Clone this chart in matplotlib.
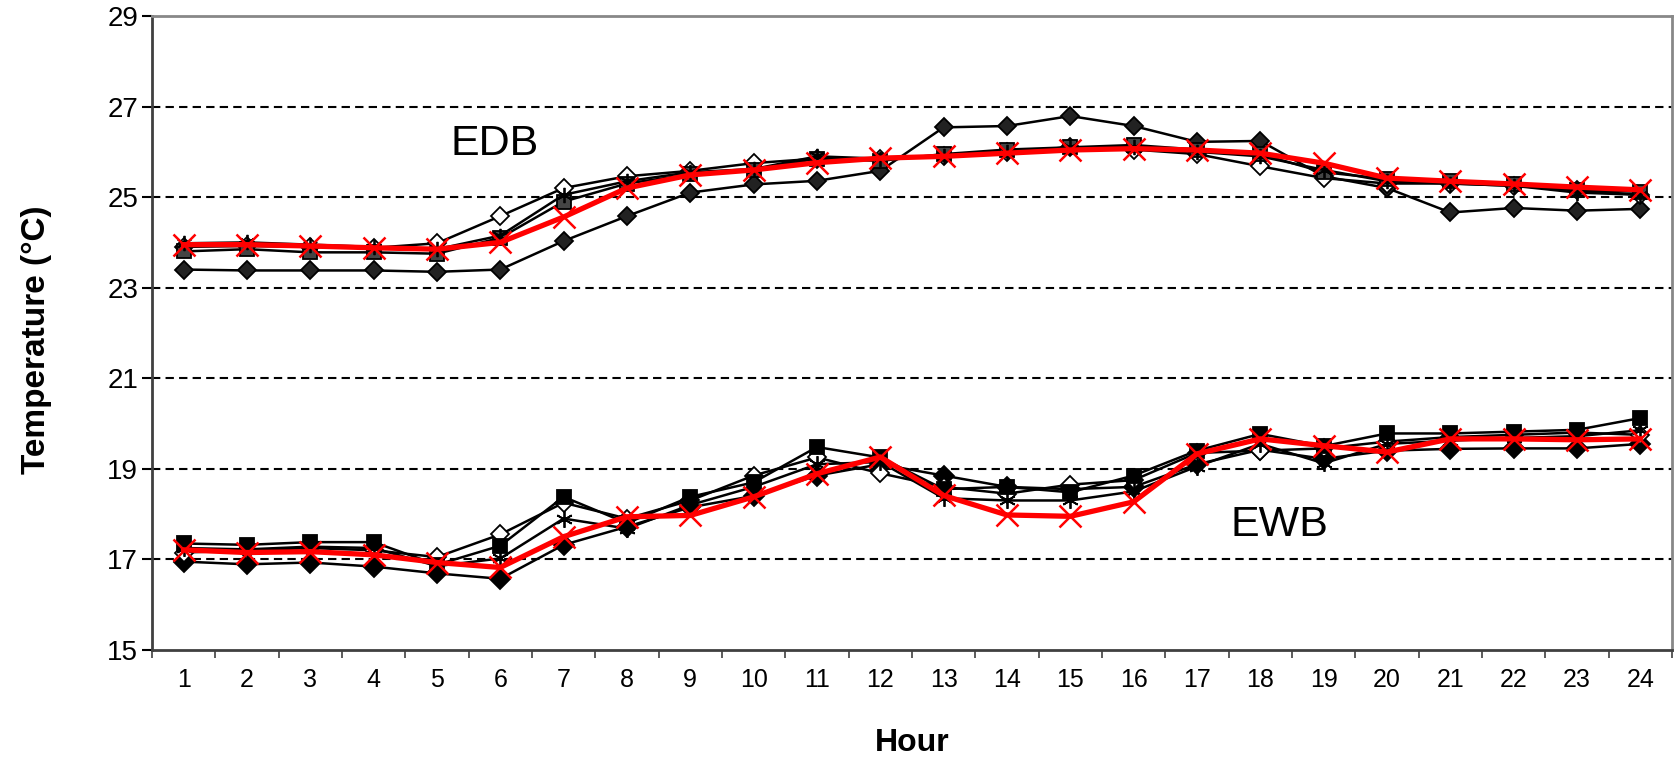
import numpy as np
import matplotlib
matplotlib.use("Agg")
import matplotlib.pyplot as plt

plt.rcParams["font.family"] = ["Liberation Sans", "DejaVu Sans"]

hours = list(range(1, 25))

# EDB (entering dry bulb) series
edb_diamond = [23.40, 23.38, 23.38, 23.38, 23.35, 23.40, 24.03, 24.58, 25.10, 25.28, 25.36, 25.58,
               26.54, 26.57, 26.79, 26.57, 26.22, 26.24, 25.46, 25.20, 24.66, 24.76, 24.70, 24.74]
edb_open = [23.90, 23.92, 23.90, 23.88, 23.98, 24.58, 25.20, 25.46, 25.58, 25.75, 25.85, 25.85,
            25.90, 26.00, 26.10, 26.05, 25.95, 25.68, 25.42, 25.30, 25.30, 25.25, 25.15, 25.05]
edb_square = [23.80, 23.85, 23.78, 23.78, 23.75, 24.10, 24.90, 25.30, 25.50, 25.60, 25.85, 25.80,
              25.95, 26.05, 26.10, 26.15, 26.05, 25.95, 25.55, 25.40, 25.35, 25.30, 25.15, 25.12]
edb_star = [23.98, 24.00, 23.95, 23.90, 23.85, 24.15, 25.05, 25.35, 25.55, 25.62, 25.90, 25.85,
            25.90, 26.00, 26.10, 26.10, 26.00, 25.90, 25.60, 25.35, 25.30, 25.25, 25.10, 25.05]
edb_red = [23.95, 23.95, 23.92, 23.88, 23.85, 24.00, 24.56, 25.20, 25.49, 25.60, 25.76, 25.86,
           25.90, 25.97, 26.04, 26.07, 26.04, 25.97, 25.75, 25.42, 25.35, 25.29, 25.22, 25.16]

# EWB (entering wet bulb) series
ewb_diamond = [16.95, 16.89, 16.93, 16.84, 16.69, 16.57, 17.32, 17.72, 18.15, 18.40, 18.85, 19.10,
               18.85, 18.60, 18.55, 18.60, 19.10, 19.42, 19.22, 19.40, 19.44, 19.45, 19.45, 19.55]
ewb_open = [17.15, 17.20, 17.25, 17.20, 17.05, 17.55, 18.25, 17.90, 18.30, 18.85, 19.25, 18.90,
            18.60, 18.45, 18.65, 18.75, 19.35, 19.40, 19.45, 19.60, 19.70, 19.75, 19.80, 19.75]
ewb_square = [17.35, 17.32, 17.38, 17.38, 16.88, 17.30, 18.38, 17.80, 18.38, 18.70, 19.48, 19.25,
              18.55, 18.60, 18.48, 18.85, 19.40, 19.77, 19.50, 19.78, 19.78, 19.82, 19.86, 20.12]
ewb_star = [17.25, 17.22, 17.28, 17.25, 16.85, 17.02, 17.90, 17.68, 18.20, 18.60, 19.10, 19.15,
            18.35, 18.30, 18.30, 18.50, 19.05, 19.55, 19.12, 19.55, 19.62, 19.68, 19.72, 19.85]
ewb_red = [17.21, 17.15, 17.17, 17.10, 16.93, 16.82, 17.50, 17.94, 17.97, 18.38, 18.89, 19.26,
           18.41, 17.98, 17.95, 18.27, 19.33, 19.66, 19.51, 19.37, 19.66, 19.66, 19.64, 19.66]

yticks = list(range(15, 30, 2))

fig = plt.figure(figsize=(16.75, 7.61), dpi=100)
ax = fig.add_axes([0.0907, 0.146, 0.9075, 0.833])

# dashed grid
for g in yticks[1:-1]:
    ax.axhline(g, color="black", lw=1.5, ls=(0, (4, 2.5)), zorder=1)

asterisk = (6, 2, 0)
black_sets = [
    (edb_diamond, "D", "#222222", 9),
    (edb_open, "D", "white", 9),
    (edb_square, "s", "#444444", 10),
    (edb_star, asterisk, "black", 11),
    (ewb_diamond, "D", "black", 10),
    (ewb_open, "D", "white", 9),
    (ewb_square, "s", "black", 10),
    (ewb_star, asterisk, "black", 12),
]
for vals, mk, fc, ms in black_sets:
    ax.plot(hours, vals, color="black", lw=1.8, marker=mk, markersize=ms,
            markerfacecolor=fc, markeredgecolor="black", markeredgewidth=1.3, zorder=3)

for vals in (edb_red, ewb_red):
    ax.plot(hours, vals, color="red", lw=3.8, marker="x", markersize=16,
            markeredgewidth=1.8, zorder=5)

ax.text(5.91, 26.17, "EDB", fontsize=31, ha="center", va="center")
ax.text(18.31, 17.76, "EWB", fontsize=31, ha="center", va="center")

ax.set_xlim(0.5, 24.5)
ax.set_ylim(15, 29)
ax.set_yticks(yticks)
ax.set_xticks(np.arange(0.5, 25, 1))
ax.set_xticklabels([])
ax.set_xticks(hours, minor=True)
ax.set_xticklabels([str(h) for h in hours], minor=True)
ax.tick_params(axis="x", which="major", direction="out", length=6, width=1.2, color="#404040")
ax.tick_params(axis="x", which="minor", length=0, labelsize=18, pad=13)
ax.tick_params(axis="y", direction="out", length=7, width=1.5, labelsize=20, pad=3)

for side in ("left", "bottom"):
    ax.spines[side].set_color("#404040")
    ax.spines[side].set_linewidth(2)
for side in ("top", "right"):
    ax.spines[side].set_color("#888888")
    ax.spines[side].set_linewidth(2)

ax.set_xlabel("Hour", fontsize=23, fontweight="bold")
ax.set_ylabel("Temperature (°C)", fontsize=24, fontweight="bold")
ax.xaxis.set_label_coords(0.5, -0.124)
ax.yaxis.set_label_coords(-0.066, 0.49)

fig.savefig("out.png", dpi=100)
